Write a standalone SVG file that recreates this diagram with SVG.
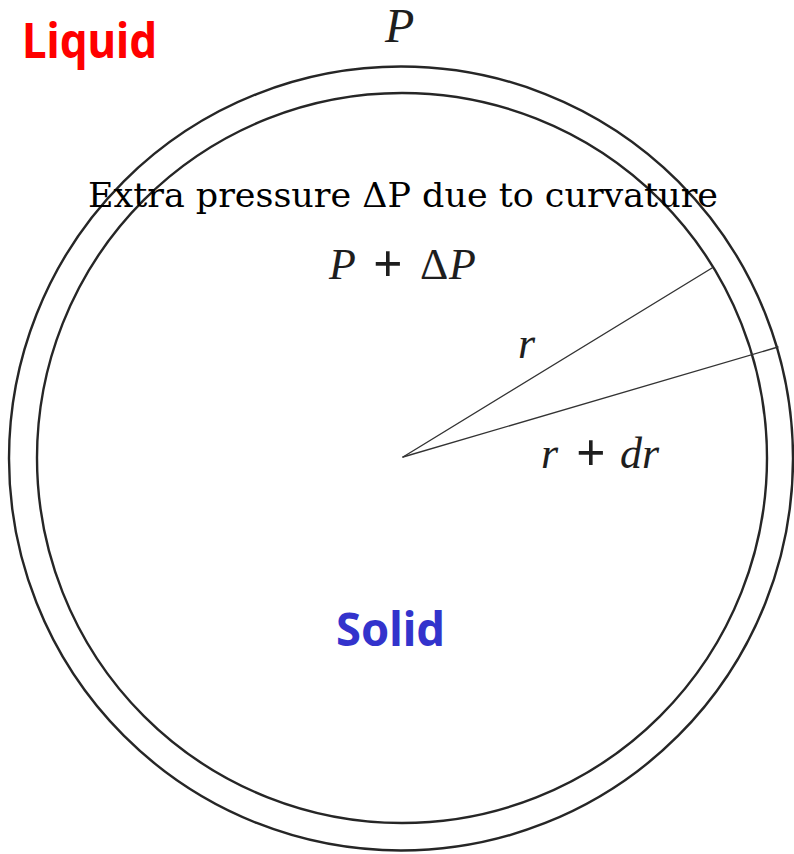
<svg xmlns="http://www.w3.org/2000/svg" width="794" height="854" viewBox="0 0 794 854">
<style>
.ring{fill:none;stroke:#262626;stroke-width:2.4}
.rad{fill:none;stroke:#333;stroke-width:1.4;stroke-linecap:round}
.math{font-family:"Liberation Serif","Times New Roman",serif;fill:#1e1e1e}
.it{font-style:italic}
.plus{font-weight:bold;font-size:52px}
.lbl{font-family:"Noto Sans","Open Sans",sans-serif;font-weight:bold}
.cap{font-family:"DejaVu Serif",serif;font-size:34px;fill:#000}
</style>
<rect width="794" height="854" fill="#fff"/>
<g id="outer-circle"><circle class="ring" cx="401" cy="458.5" r="392"/></g>
<g id="inner-circle"><circle class="ring" cx="402" cy="458" r="365"/></g>
<g id="connectors">
<line class="rad" x1="403" y1="457" x2="712" y2="268"/>
<line class="rad" x1="403" y1="457" x2="778" y2="347"/>
</g>
<g id="liquid-label"><text class="lbl" x="22" y="58" font-size="48" fill="#ff0000" textLength="135" lengthAdjust="spacingAndGlyphs">Liquid</text></g>
<g id="solid-label"><text class="lbl" x="336" y="646" font-size="46" fill="#3333cc" textLength="109" lengthAdjust="spacingAndGlyphs">Solid</text></g>
<g id="p-label"><text class="math it" x="385" y="42" font-size="48">P</text></g>
<g id="caption"><text class="cap" x="88" y="207" textLength="630" lengthAdjust="spacingAndGlyphs">Extra pressure ΔP due to curvature</text></g>
<g id="p-dp-label"><text class="math" y="279" font-size="44"><tspan class="it" x="329">P</tspan><tspan class="plus" x="373" y="281">+</tspan><tspan x="420" y="279">Δ</tspan><tspan class="it" x="449">P</tspan></text></g>
<g id="r-label"><text class="math it" x="518" y="358" font-size="44">r</text></g>
<g id="r-dr-label"><text class="math" y="468" font-size="44"><tspan class="it" x="541">r</tspan><tspan class="plus" x="576" y="470">+</tspan><tspan class="it" x="620" y="468">dr</tspan></text></g>
</svg>
